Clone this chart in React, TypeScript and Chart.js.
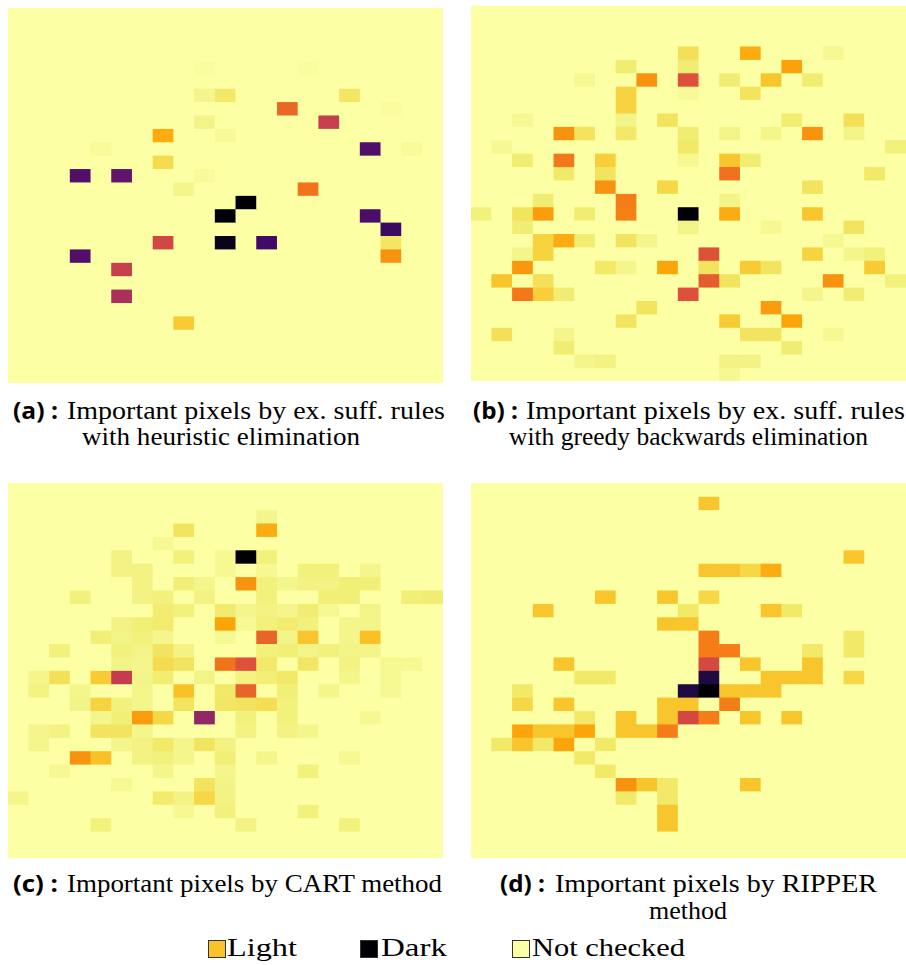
import React, { useEffect, useLayoutEffect, useRef } from "react";
import Chart from "chart.js/auto";

// ---------- data ----------
const ROWS = 28;
const COLS = 21;
const columnLabels: string[] = Array.from({ length: COLS }, (_, i) => String(i));

// [row, column, importance value]; every other cell = 1 (not checked)
const cellsA: [number, number, number][] = [
  [4, 9, 0.995], [4, 14, 0.995], [6, 9, 0.975], [6, 10, 0.94], [6, 16, 0.935],
  [7, 13, 0.66], [7, 18, 0.993], [8, 9, 0.97], [8, 15, 0.53], [9, 7, 0.81],
  [9, 10, 0.985], [10, 4, 0.99], [10, 17, 0.24], [10, 19, 0.99], [11, 7, 0.91],
  [12, 3, 0.24], [12, 5, 0.28], [12, 9, 0.99], [13, 8, 0.975], [13, 14, 0.69],
  [14, 11, 0.0], [15, 10, 0.0], [15, 17, 0.22], [16, 18, 0.18], [17, 7, 0.56],
  [17, 10, 0.04], [17, 12, 0.2], [17, 18, 0.935], [18, 3, 0.24], [18, 18, 0.76],
  [19, 5, 0.53], [21, 5, 0.46], [23, 8, 0.87],
];

const cellsB: [number, number, number][] = [
  [3, 10, 0.92], [3, 13, 0.81], [3, 17, 0.98],
  [4, 7, 0.95], [4, 10, 0.95], [4, 15, 0.79],
  [5, 5, 0.98], [5, 8, 0.76], [5, 10, 0.6], [5, 12, 0.95], [5, 14, 0.86], [5, 16, 0.95],
  [6, 7, 0.89], [6, 10, 0.985], [6, 13, 0.93],
  [7, 7, 0.89],
  [8, 2, 0.98], [8, 7, 0.97], [8, 9, 0.93], [8, 15, 0.95], [8, 18, 0.92],
  [9, 4, 0.76], [9, 5, 0.93], [9, 7, 0.94], [9, 10, 0.95], [9, 12, 0.97], [9, 14, 0.975], [9, 16, 0.76], [9, 18, 0.97],
  [10, 1, 0.98], [10, 10, 0.94], [10, 20, 0.96],
  [11, 2, 0.95], [11, 4, 0.7], [11, 6, 0.88], [11, 10, 0.98], [11, 12, 0.86], [11, 13, 0.95],
  [12, 4, 0.94], [12, 6, 0.93], [12, 12, 0.68], [12, 19, 0.94],
  [13, 6, 0.76], [13, 9, 0.9], [13, 16, 0.93],
  [14, 3, 0.95], [14, 7, 0.71], [14, 12, 0.97],
  [15, 0, 0.96], [15, 2, 0.93], [15, 3, 0.78], [15, 5, 0.95], [15, 7, 0.72], [15, 10, 0.0], [15, 12, 0.81], [15, 16, 0.86],
  [16, 2, 0.95], [16, 10, 0.97], [16, 14, 0.98], [16, 18, 0.93],
  [17, 3, 0.89], [17, 4, 0.81], [17, 5, 0.95], [17, 7, 0.93], [17, 8, 0.975], [17, 17, 0.98],
  [18, 2, 0.975], [18, 3, 0.89], [18, 11, 0.6], [18, 16, 0.89], [18, 18, 0.975], [18, 19, 0.96],
  [19, 2, 0.77], [19, 6, 0.94], [19, 7, 0.975], [19, 9, 0.8], [19, 11, 0.93], [19, 13, 0.87], [19, 14, 0.93], [19, 19, 0.87],
  [20, 1, 0.86], [20, 3, 0.92], [20, 11, 0.63], [20, 12, 0.93], [20, 17, 0.76], [20, 20, 0.96],
  [21, 2, 0.7], [21, 3, 0.88], [21, 4, 0.95], [21, 10, 0.6], [21, 16, 0.975], [21, 18, 0.95],
  [22, 8, 0.93], [22, 14, 0.78],
  [23, 7, 0.93], [23, 12, 0.87], [23, 15, 0.8],
  [24, 1, 0.92], [24, 4, 0.975], [24, 13, 0.93], [24, 14, 0.93], [24, 17, 0.98],
  [25, 4, 0.95], [25, 15, 0.95],
  [26, 5, 0.975], [26, 6, 0.965], [26, 12, 0.965], [26, 13, 0.965],
  [27, 12, 0.98],
];

const cellsC: [number, number, number][] = [
  [2, 12, 0.975],
  [3, 8, 0.93], [3, 12, 0.81],
  [4, 7, 0.98],
  [5, 5, 0.965], [5, 8, 0.96], [5, 10, 0.98], [5, 11, 0.0], [5, 12, 0.96],
  [6, 5, 0.965], [6, 6, 0.965], [6, 10, 0.98], [6, 12, 0.98], [6, 14, 0.96], [6, 15, 0.96], [6, 17, 0.975],
  [7, 6, 0.965], [7, 8, 0.955], [7, 9, 0.975], [7, 11, 0.76], [7, 12, 0.96], [7, 13, 0.975], [7, 14, 0.965], [7, 15, 0.965], [7, 16, 0.955], [7, 17, 0.955],
  [8, 3, 0.96], [8, 6, 0.965], [8, 7, 0.96], [8, 9, 0.965], [8, 12, 0.96], [8, 15, 0.955], [8, 16, 0.955], [8, 19, 0.955], [8, 20, 0.95],
  [9, 7, 0.95], [9, 8, 0.96], [9, 10, 0.945], [9, 11, 0.975], [9, 12, 0.965], [9, 13, 0.975], [9, 14, 0.95], [9, 15, 0.98], [9, 17, 0.97],
  [10, 5, 0.965], [10, 6, 0.955], [10, 7, 0.945], [10, 10, 0.8], [10, 11, 0.98], [10, 12, 0.96], [10, 13, 0.945], [10, 14, 0.96], [10, 16, 0.975], [10, 17, 0.97],
  [11, 4, 0.955], [11, 5, 0.97], [11, 6, 0.96], [11, 7, 0.975], [11, 10, 0.98], [11, 12, 0.65], [11, 13, 0.97], [11, 14, 0.86], [11, 16, 0.975], [11, 17, 0.85],
  [12, 2, 0.96], [12, 5, 0.96], [12, 6, 0.97], [12, 7, 0.93], [12, 8, 0.965], [12, 12, 0.96], [12, 13, 0.955], [12, 14, 0.97], [12, 15, 0.96], [12, 16, 0.97], [12, 17, 0.97],
  [13, 5, 0.97], [13, 6, 0.975], [13, 7, 0.91], [13, 8, 0.93], [13, 10, 0.69], [13, 11, 0.6], [13, 12, 0.94], [13, 14, 0.935], [13, 16, 0.965], [13, 18, 0.98], [13, 19, 0.98],
  [14, 1, 0.975], [14, 2, 0.92], [14, 4, 0.87], [14, 5, 0.52], [14, 6, 0.97], [14, 7, 0.95], [14, 9, 0.97], [14, 11, 0.965], [14, 12, 0.955], [14, 13, 0.94], [14, 16, 0.975], [14, 18, 0.98],
  [15, 1, 0.965], [15, 3, 0.975], [15, 6, 0.975], [15, 8, 0.85], [15, 10, 0.94], [15, 11, 0.65], [15, 13, 0.955], [15, 15, 0.975], [15, 18, 0.98],
  [16, 3, 0.97], [16, 4, 0.89], [16, 5, 0.96], [16, 6, 0.975], [16, 8, 0.93], [16, 10, 0.935], [16, 11, 0.93], [16, 12, 0.915], [16, 13, 0.96],
  [17, 4, 0.975], [17, 5, 0.955], [17, 6, 0.78], [17, 7, 0.9], [17, 9, 0.4], [17, 11, 0.96], [17, 13, 0.96], [17, 17, 0.98],
  [18, 1, 0.975], [18, 2, 0.965], [18, 4, 0.93], [18, 5, 0.93], [18, 6, 0.975], [18, 11, 0.965], [18, 13, 0.965], [18, 14, 0.975],
  [19, 1, 0.975], [19, 5, 0.975], [19, 6, 0.965], [19, 7, 0.94], [19, 8, 0.975], [19, 9, 0.93], [19, 10, 0.965],
  [20, 3, 0.76], [20, 4, 0.85], [20, 6, 0.965], [20, 7, 0.96], [20, 8, 0.975], [20, 10, 0.955], [20, 12, 0.975], [20, 16, 0.98],
  [21, 2, 0.98], [21, 7, 0.975], [21, 10, 0.975], [21, 14, 0.96],
  [22, 5, 0.98], [22, 9, 0.93], [22, 10, 0.97],
  [23, 0, 0.975], [23, 7, 0.945], [23, 8, 0.965], [23, 9, 0.9], [23, 10, 0.965],
  [24, 8, 0.98], [24, 10, 0.96], [24, 14, 0.96],
  [25, 4, 0.96], [25, 11, 0.965], [25, 16, 0.96],
];

const cellsD: [number, number, number][] = [
  [1, 11, 0.86],
  [5, 18, 0.86],
  [6, 11, 0.86], [6, 12, 0.86], [6, 13, 0.9], [6, 14, 0.81],
  [8, 6, 0.86], [8, 9, 0.86], [8, 11, 0.9],
  [9, 3, 0.86], [9, 10, 0.94], [9, 14, 0.86], [9, 15, 0.94],
  [10, 9, 0.86], [10, 10, 0.86],
  [11, 11, 0.71], [11, 18, 0.94],
  [12, 11, 0.71], [12, 12, 0.71], [12, 16, 0.94], [12, 18, 0.94],
  [13, 4, 0.86], [13, 11, 0.57], [13, 13, 0.86], [13, 16, 0.86],
  [14, 5, 0.94], [14, 6, 0.94], [14, 11, 0.12], [14, 14, 0.86], [14, 15, 0.86], [14, 16, 0.86], [14, 18, 0.9],
  [15, 2, 0.94], [15, 10, 0.12], [15, 11, 0.0], [15, 12, 0.86], [15, 13, 0.86], [15, 14, 0.86],
  [16, 2, 0.9], [16, 4, 0.86], [16, 9, 0.86], [16, 10, 0.86], [16, 12, 0.71],
  [17, 5, 0.94], [17, 7, 0.86], [17, 9, 0.86], [17, 10, 0.57], [17, 11, 0.71], [17, 13, 0.86], [17, 15, 0.86],
  [18, 2, 0.8], [18, 3, 0.86], [18, 4, 0.86], [18, 5, 0.8], [18, 7, 0.86], [18, 8, 0.86], [18, 9, 0.71],
  [19, 1, 0.94], [19, 2, 0.86], [19, 3, 0.94], [19, 4, 0.8], [19, 6, 0.94],
  [20, 5, 0.94],
  [21, 6, 0.94],
  [22, 7, 0.76], [22, 8, 0.86], [22, 9, 0.94], [22, 13, 0.86],
  [23, 7, 0.94], [23, 9, 0.94],
  [24, 9, 0.86],
  [25, 9, 0.86],
];

const captionLabels = ["(a) :", "(b) :", "(c) :", "(d) :"];
const captionLines: string[][] = [
  ["Important pixels by ex. suff. rules", "with heuristic elimination"],
  ["Important pixels by ex. suff. rules", "with greedy backwards elimination"],
  ["Important pixels by CART method"],
  ["Important pixels by RIPPER", "method"],
];
const legendLabels = ["Light", "Dark", "Not checked"];
const legendValues = [0.855, 0.0, 1.0];

// ---------- colour map (inferno, non-uniform stops) ----------
const INFERNO: number[][] = [
  [0.0, 0, 0, 4], [0.1, 22, 11, 57], [0.2, 66, 10, 104], [0.3, 106, 23, 110], [0.4, 147, 38, 103],
  [0.5, 188, 55, 84], [0.6, 221, 81, 58], [0.7, 243, 120, 25], [0.8, 252, 165, 10],
  [0.85, 250, 193, 39], [0.9, 246, 215, 70], [0.95, 241, 237, 114], [0.975, 244, 246, 140], [1.0, 252, 255, 164],
];
function inferno(v: number): string {
  const t = Math.max(0, Math.min(1, v));
  let i = 0;
  while (i < INFERNO.length - 2 && t > INFERNO[i + 1][0]) i++;
  const a = INFERNO[i], b = INFERNO[i + 1];
  const f = (t - a[0]) / (b[0] - a[0]);
  const c = [1, 2, 3].map((k) => Math.round(a[k] + (b[k] - a[k]) * f));
  return `rgb(${c[0]},${c[1]},${c[2]})`;
}

const PW = 435;
const PH = 375;

function Heatmap({ cells, left, top }: { cells: [number, number, number][]; left: number; top: number }) {
  const ref = useRef<HTMLCanvasElement>(null);
  useEffect(() => {
    const grid: number[][] = Array.from({ length: ROWS }, () => Array(COLS).fill(1));
    cells.forEach(([r, c, v]) => { grid[r][c] = v; });
    const datasets = grid.map((row, r) => ({
      label: "row " + r,
      data: row.map(() => [r, r + 1]),
      backgroundColor: row.map((v) => inferno(v)),
      borderWidth: 0,
      categoryPercentage: 1,
      barPercentage: 1,
      grouped: false,
    }));
    const chart = new Chart(ref.current as HTMLCanvasElement, {
      type: "bar",
      data: { labels: columnLabels, datasets: datasets as any },
      options: {
        animation: false,
        responsive: false,
        events: [],
        layout: { padding: 0 },
        plugins: { legend: { display: false }, tooltip: { enabled: false }, title: { display: false } },
        scales: {
          x: { display: false, offset: true },
          y: { display: false, min: 0, max: ROWS, reverse: true },
        },
      },
    });
    return () => chart.destroy();
  }, [cells]);
  return (
    <canvas
      ref={ref}
      width={PW}
      height={PH}
      style={{ position: "absolute", left, top, width: PW, height: PH, background: inferno(1) }}
    />
  );
}

const SERIF = '"Liberation Serif", "DejaVu Serif", serif';
const SANS = '"Open Sans", "DejaVu Sans", sans-serif';

function FitText({ text, left, right, baseline, size, family, weight = 400, asc }: {
  text: string; left: number; right: number; baseline: number; size: number; family: string; weight?: number; asc: number;
}) {
  const ref = useRef<HTMLSpanElement>(null);
  useLayoutEffect(() => {
    const el = ref.current;
    if (!el) return;
    el.style.transform = "none";
    const w = el.getBoundingClientRect().width;
    if (w > 0) el.style.transform = `scaleX(${(right - left) / w})`;
  });
  return (
    <span
      ref={ref}
      style={{
        position: "absolute", left, top: baseline - size * asc, fontFamily: family, fontSize: size,
        fontWeight: weight, lineHeight: 1, whiteSpace: "nowrap", transformOrigin: "left top", color: "#000",
      }}
    >
      {text}
    </span>
  );
}

const SA = 0.8375; // serif baseline factor
const SB = 0.888; // sans baseline factor

export default function App() {
  return (
    <div style={{ position: "absolute", left: 0, top: 0, width: 906, height: 965, background: "#fff", overflow: "hidden" }}>
      <Heatmap cells={cellsA} left={8} top={8} />
      <Heatmap cells={cellsB} left={471} top={6} />
      <Heatmap cells={cellsC} left={8} top={483} />
      <Heatmap cells={cellsD} left={471} top={483} />

      {/* captions */}
      <FitText text={captionLabels[0]} left={13} right={58} baseline={419} size={23} family={SANS} weight={700} asc={SB} />
      <FitText text={captionLines[0][0]} left={67} right={445} baseline={419} size={25} family={SERIF} asc={SA} />
      <FitText text={captionLines[0][1]} left={82} right={360} baseline={445} size={25} family={SERIF} asc={SA} />

      <FitText text={captionLabels[1]} left={473} right={518} baseline={419} size={23} family={SANS} weight={700} asc={SB} />
      <FitText text={captionLines[1][0]} left={526} right={905} baseline={419} size={25} family={SERIF} asc={SA} />
      <FitText text={captionLines[1][1]} left={509} right={868} baseline={445} size={25} family={SERIF} asc={SA} />

      <FitText text={captionLabels[2]} left={13} right={58} baseline={892} size={23} family={SANS} weight={700} asc={SB} />
      <FitText text={captionLines[2][0]} left={67} right={442} baseline={892} size={25} family={SERIF} asc={SA} />

      <FitText text={captionLabels[3]} left={500} right={545} baseline={892} size={23} family={SANS} weight={700} asc={SB} />
      <FitText text={captionLines[3][0]} left={555} right={877} baseline={892} size={25} family={SERIF} asc={SA} />
      <FitText text={captionLines[3][1]} left={649} right={727} baseline={919} size={25} family={SERIF} asc={SA} />

      {/* legend */}
      {[208, 360, 512].map((x, i) => (
        <div
          key={"sw" + i}
          style={{
            position: "absolute", left: x, top: 940, width: 16, height: 16,
            background: inferno(legendValues[i]), border: "1px solid #333",
          }}
        />
      ))}
      <FitText text={legendLabels[0]} left={227} right={297} baseline={957} size={26} family={SERIF} asc={SA} />
      <FitText text={legendLabels[1]} left={381} right={447} baseline={957} size={26} family={SERIF} asc={SA} />
      <FitText text={legendLabels[2]} left={532} right={685} baseline={957} size={26} family={SERIF} asc={SA} />
    </div>
  );
}
